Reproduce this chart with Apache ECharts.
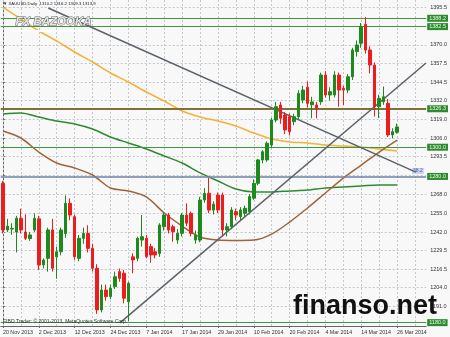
<!DOCTYPE html>
<html><head><meta charset="utf-8">
<script src="https://cdn.jsdelivr.net/npm/echarts@6/dist/echarts.min.js"></script>
<style>html,body{margin:0;padding:0;background:#f7f8f7}#c{width:450px;height:337px}</style>
</head><body><div id="c"></div>
<script>
const dates = ['20 Nov 2013','21 Nov 2013','22 Nov 2013','25 Nov 2013','26 Nov 2013','27 Nov 2013','28 Nov 2013','29 Nov 2013',
'2 Dec 2013','3 Dec 2013','4 Dec 2013','5 Dec 2013','6 Dec 2013','9 Dec 2013','10 Dec 2013','11 Dec 2013',
'12 Dec 2013','13 Dec 2013','16 Dec 2013','17 Dec 2013','18 Dec 2013','19 Dec 2013','20 Dec 2013','23 Dec 2013',
'24 Dec 2013','26 Dec 2013','27 Dec 2013','30 Dec 2013','31 Dec 2013','2 Jan 2014','3 Jan 2014','6 Jan 2014',
'7 Jan 2014','8 Jan 2014','9 Jan 2014','10 Jan 2014','13 Jan 2014','14 Jan 2014','15 Jan 2014','16 Jan 2014',
'17 Jan 2014','20 Jan 2014','21 Jan 2014','22 Jan 2014','23 Jan 2014','24 Jan 2014','27 Jan 2014','28 Jan 2014',
'29 Jan 2014','30 Jan 2014','31 Jan 2014','3 Feb 2014','4 Feb 2014','5 Feb 2014','6 Feb 2014','7 Feb 2014',
'10 Feb 2014','11 Feb 2014','12 Feb 2014','13 Feb 2014','14 Feb 2014','17 Feb 2014','18 Feb 2014','19 Feb 2014',
'20 Feb 2014','21 Feb 2014','24 Feb 2014','25 Feb 2014','26 Feb 2014','27 Feb 2014','28 Feb 2014','3 Mar 2014',
'4 Mar 2014','5 Mar 2014','6 Mar 2014','7 Mar 2014','10 Mar 2014','11 Mar 2014','12 Mar 2014','13 Mar 2014',
'14 Mar 2014','17 Mar 2014','18 Mar 2014','19 Mar 2014','20 Mar 2014','21 Mar 2014','24 Mar 2014','25 Mar 2014',
'26 Mar 2014'];
const opens = [1275.3,1243.4,1244.0,1242.0,1251.4,1242.0,1237.5,1243.4,1251.0,1219.5,1224.0,1243.4,1225.0,1228.5,1241.0,1261.6,
1252.5,1224.0,1237.7,1241.0,1230.8,1217.2,1188.7,1202.3,1197.8,1204.6,1214.9,1213.8,1194.3,1225.0,1224.0,1236.5,
1237.7,1232.0,1228.5,1227.4,1245.6,1253.6,1245.6,1236.5,1241.1,1253.6,1254.7,1236.5,1236.5,1263.9,1268.5,1257.0,
1267.3,1267.3,1243.4,1245.6,1255.9,1252.5,1254.8,1255.9,1265.1,1275.3,1291.3,1291.3,1301.5,1318.6,1328.9,1322.0,
1320.9,1317.5,1320.9,1332.3,1341.0,1329.0,1328.9,1331.1,1349.4,1335.7,1335.7,1349.4,1340.3,1339.1,1348.2,1365.4,
1371.1,1384.0,1366.5,1356.2,1327.7,1331.1,1330.0,1308.4,1310.2];
const highs = [1277.0,1251.0,1248.0,1253.0,1258.0,1254.0,1242.0,1254.8,1253.0,1224.0,1245.0,1251.0,1232.0,1245.0,1267.0,1265.0,
1254.0,1240.0,1245.0,1246.6,1234.0,1220.0,1206.0,1206.0,1206.0,1214.9,1217.0,1216.0,1208.0,1227.4,1238.8,1253.6,
1240.0,1234.0,1231.0,1248.0,1255.0,1255.0,1247.0,1244.0,1255.0,1261.6,1256.0,1243.0,1266.0,1272.0,1279.0,1263.0,
1269.0,1269.0,1248.0,1259.0,1258.0,1259.0,1260.0,1268.0,1278.0,1292.0,1298.0,1304.0,1320.0,1331.0,1331.0,1324.0,
1323.0,1323.0,1339.0,1342.0,1345.0,1334.5,1331.0,1351.0,1352.0,1341.0,1352.0,1351.0,1342.0,1350.0,1368.0,1373.0,
1385.0,1389.0,1369.0,1358.0,1336.0,1341.5,1333.0,1313.0,1316.2];
const lows = [1241.0,1242.0,1240.0,1228.0,1241.0,1236.5,1236.0,1242.0,1216.0,1217.0,1214.9,1215.0,1210.0,1226.0,1238.0,1250.0,
1223.0,1222.0,1234.0,1228.0,1215.0,1186.0,1187.0,1195.0,1196.0,1203.0,1208.0,1193.2,1181.0,1213.8,1222.0,1232.0,
1224.0,1221.0,1224.0,1225.0,1243.0,1241.0,1235.4,1234.0,1239.0,1246.0,1239.0,1234.0,1235.0,1262.0,1255.0,1254.0,
1255.0,1238.8,1239.0,1244.0,1250.0,1250.0,1252.0,1254.0,1264.0,1274.0,1289.0,1290.0,1300.0,1317.0,1316.0,1309.0,
1308.0,1315.0,1319.0,1330.0,1327.0,1319.8,1319.8,1329.0,1334.0,1332.0,1334.0,1327.7,1328.9,1337.0,1346.0,1362.0,
1368.0,1364.0,1350.5,1321.0,1320.0,1329.0,1307.0,1306.0,1309.3];
const closes = [1243.4,1246.0,1244.5,1251.4,1243.4,1237.7,1240.0,1251.4,1219.4,1222.8,1243.4,1217.2,1228.5,1243.4,1261.6,1253.6,
1225.1,1237.7,1241.0,1230.8,1217.2,1188.7,1202.3,1197.8,1203.5,1211.4,1210.3,1196.7,1206.9,1222.9,1237.7,1238.8,
1225.1,1226.3,1226.3,1246.8,1253.6,1243.4,1242.2,1241.1,1253.6,1248.0,1241.1,1239.9,1263.9,1268.4,1257.0,1261.0,
1257.1,1243.4,1245.6,1257.1,1253.6,1257.1,1258.2,1266.2,1275.3,1291.3,1296.9,1302.7,1318.6,1327.7,1319.8,1311.8,
1310.6,1320.9,1336.8,1339.1,1330.0,1331.0,1326.6,1349.4,1335.7,1338.0,1349.4,1339.1,1339.1,1348.2,1366.5,1369.9,
1382.5,1366.5,1356.2,1327.7,1333.4,1334.5,1308.4,1310.6,1313.9];

const maIndex  = [0,4,8,12,16,20,24,28,32,36,40,44,48,52,56,60,64,68,72,76,80,84,88];
const maOrange = [1395.7,1387.7,1379.5,1372.7,1365.1,1358.3,1350.8,1344.6,1337.8,1331.6,1324.8,1320.7,1317.9,1314.5,1309.7,1305.6,1303.6,1302.9,1301.5,1300.8,1300.1,1298.8,1297.4];
const maGreen  = [1322.7,1323.4,1320.7,1317.9,1315.9,1312.5,1307.0,1302.9,1298.8,1294.0,1289.2,1282.4,1276.9,1271.4,1269.4,1269.4,1270.1,1270.7,1272.1,1272.8,1273.5,1274.2,1274.2];
const maBrown  = [1311.1,1306.3,1296.7,1289.2,1285.8,1281.0,1272.1,1270.1,1266.0,1255.0,1246.1,1238.6,1236.5,1236.2,1236.5,1240.6,1248.8,1258.4,1268.7,1278.9,1287.8,1296.7,1304.9];

const trendDown = [[10.1,1395.2],[92.2,1283.0]];
const trendUp   = [[26.1,1179.8],[94.46,1357.6]];

const yTicks = [1395.5,1382.5,1370.0,1357.5,1344.5,1332.0,1319.0,1306.0,1293.5,1280.5,1268.0,1255.0,1242.0,1229.5,1216.5,1204.0,1191.0];
const greenLevels = [1388.2,1382.5,1300.0,1180.0];
const oliveLevel = 1326.3;
const blueLevel = 1280.0;
const lastPrice = 1313.9;
const titleText = 'XAUUSD,Daily  1310.2 1316.2 1309.3 1313.9';

const N_EXTRA = 6;
const cats = dates.concat(new Array(N_EXTRA).fill(''));
const nCats = cats.length;
const FONT = 'Liberation Sans';

const candleData = opens.map((o,i)=>[o, closes[i], lows[i], highs[i]]);
const pair = (idx, arr) => idx.map((x,k)=>[x, arr[k]]);

const gridLines = [];
for (const v of yTicks) gridLines.push({yAxis: v, lineStyle:{color:'#c3c7cb', width:1, type:[2,2]}});
for (let i = 0; i < nCats; i += 4) gridLines.push({xAxis: i, lineStyle:{color:'#c3c7cb', width:1, type:[2,2]}});

const boxLabel = (txt, bg, fg) => ({show:true, position:'end', distance:1, formatter: txt, backgroundColor: bg, color: fg,
  fontSize: 5.5, fontFamily: FONT, padding:[1,2,0,2]});

const levelLines = [];
for (const v of greenLevels) levelLines.push({yAxis: v, lineStyle:{color:'#3f963f', width:1, type:'solid'},
  label: boxLabel(v.toFixed(1), '#2f8a2f', '#e6ffe6')});
levelLines.push({yAxis: oliveLevel, lineStyle:{color:'#7d7136', width:2, type:'solid'},
  label: boxLabel(oliveLevel.toFixed(1), '#2f8a2f', '#e6ffe6')});
levelLines.push({yAxis: oliveLevel, lineStyle:{opacity:0}, label:{show:true, position:'insideEndTop', distance:1, formatter:'23.6', color:'#c07a7a', fontSize:5.5, fontFamily: FONT}});
levelLines.push({yAxis: blueLevel, lineStyle:{color:'#6d82ad', width:1.5, type:'solid'},
  label: boxLabel(blueLevel.toFixed(1), '#2f8a2f', '#e6ffe6')});
levelLines.push({yAxis: lastPrice, lineStyle:{opacity:0},
  label: boxLabel(lastPrice.toFixed(1), '#000', '#fff')});

const chart = echarts.init(document.getElementById('c'), null, {renderer:'canvas'});
chart.setOption({
  animation: false,
  backgroundColor: '#f7f8f7',
  grid: {left: 0.25, right: 23, top: 0, bottom: 11, containLabel: false},
  xAxis: [
    {type:'category', data: cats, boundaryGap: true,
     axisLine:{show:true, lineStyle:{color:'#666', width:1}},
     axisTick:{show:true, interval:7, alignWithLabel:true, length:2, lineStyle:{color:'#666'}},
     axisLabel:{interval:7, align:'left', margin:4, fontSize:5.3, color:'#333', fontFamily: FONT, hideOverlap:false},
     splitLine:{show:false}},
    {type:'value', min:-0.5, max: nCats - 0.5, show:false}
  ],
  yAxis: {type:'value', position:'right', min:1177.7, max:1400.7, scale:true,
    axisLine:{show:true, lineStyle:{color:'#666', width:1}},
    axisTick:{show:true, length:2, customValues: yTicks, lineStyle:{color:'#666'}},
    axisLabel:{customValues: yTicks, formatter: v => v.toFixed(1), align:'left', margin:4, fontSize:5.5, color:'#333', fontFamily: FONT},
    splitLine:{show:false}},
  series: [
    {type:'line', xAxisIndex:1, data:[], silent:true,
     markLine:{silent:true, symbol:['none','none'], label:{show:false}, data: gridLines, z:1}},
    {type:'line', name:'MA orange', xAxisIndex:1, data: pair(maIndex, maOrange), smooth:0.3, showSymbol:false, lineStyle:{color:'#f4b23a', width:1.6}, z:3},
    {type:'line', name:'MA green', xAxisIndex:1, data: pair(maIndex, maGreen), smooth:0.3, showSymbol:false, lineStyle:{color:'#2f8a2f', width:1.5}, z:3},
    {type:'line', name:'MA brown', xAxisIndex:1, data: pair(maIndex, maBrown), smooth:0.3, showSymbol:false, lineStyle:{color:'#a0643a', width:1.5}, z:3},
    {type:'line', name:'levels', xAxisIndex:1, data:[], silent:true,
     markLine:{silent:true, symbol:['none','none'], label:{show:false}, data: levelLines, z:4}},
    {type:'line', name:'trend down', xAxisIndex:1, data: trendDown, showSymbol:false, lineStyle:{color:'#5b6169', width:1.5}, z:5,
     markPoint:{symbol:'rect', symbolSize:[0,0], data:[{coord: trendDown[1], label:{show:true, formatter:'38.2', position:'inside', color:'#5060a0', backgroundColor:'#c9d3f2', fontSize:5, fontFamily: FONT, padding:[1,1,0,1], offset:[2,-1]}}]}},
    {type:'line', name:'trend up', xAxisIndex:1, data: trendUp, showSymbol:false, lineStyle:{color:'#5b6169', width:1.5}, z:5},
    {type:'candlestick', name:'XAUUSD', xAxisIndex:0, data: candleData, barWidth:3, z:6,
     itemStyle:{color:'#1d8a1d', color0:'#ee1d1d', borderColor:'#1d8a1d', borderColor0:'#ee1d1d', borderWidth:1}}
  ],
  graphic: [
    {type:'text', left:3, top:2, z:100, style:{text:'\u25BC ' + titleText, font:'4.3px "Liberation Sans"', fill:'#222'}},
    {type:'text', left:15, top:15, z:100, style:{text:'FX BAZOOKA', font:'italic bold 11.5px "Liberation Sans"', fill:'#e4e6e4', stroke:'#6a6a6a', lineWidth:1}},
    {type:'line', z:100, shape:{x1:12, y1:31, x2:92, y2:31}, style:{stroke:'#ffffff', lineWidth:2}},
    {type:'text', left:3, top:319, z:100, style:{text:'FIBO Trader: \u00A9 2001-2013, MetaQuotes Software Corp.', font:'5px "Liberation Sans"', fill:'#333'}},
    {type:'text', left:293, top:293, z:200, style:{text:'finanso.net', font:'bold 27px "Liberation Sans"', fill:'#111'}}
  ]
});
</script></body></html>
